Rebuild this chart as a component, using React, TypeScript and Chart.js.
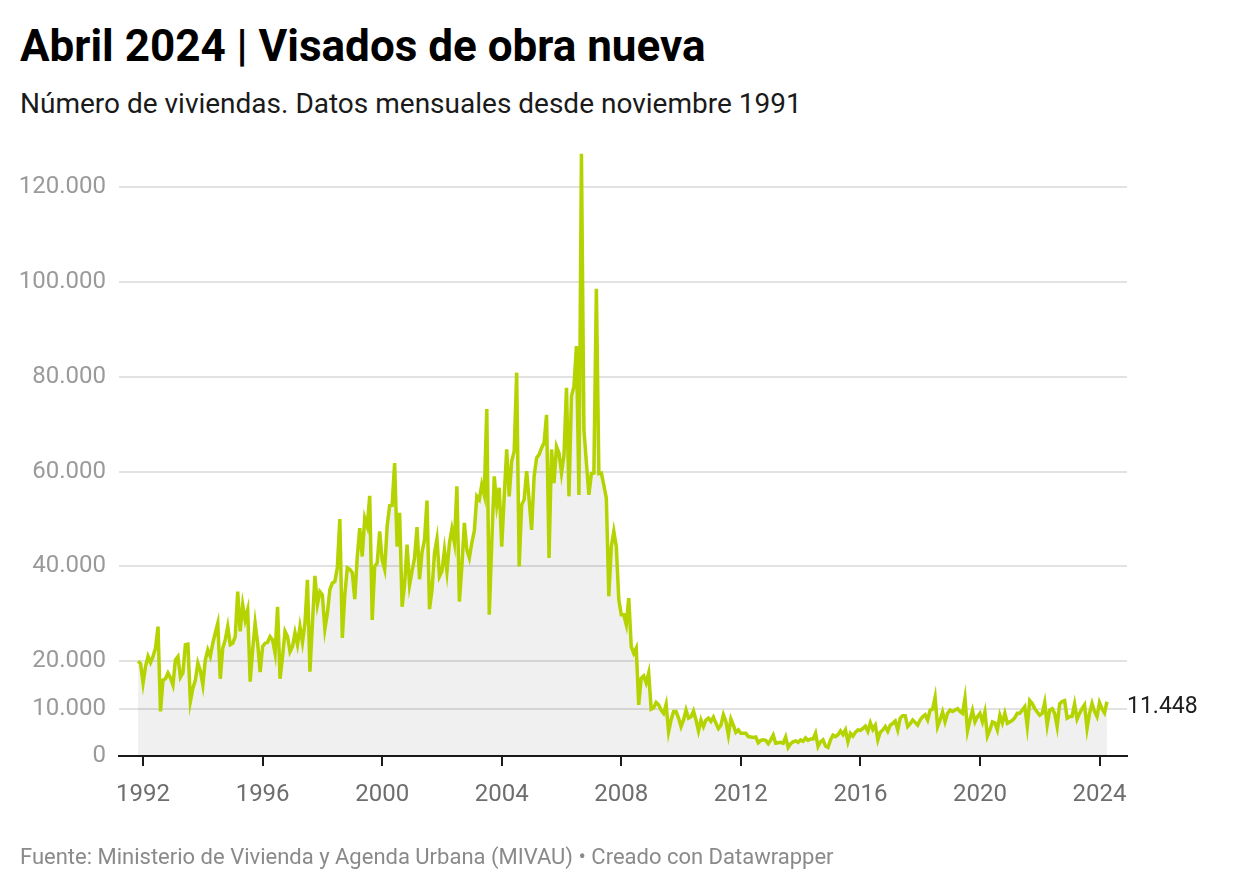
import React, { useEffect, useRef } from "react";
import { Chart, registerables } from "chart.js";

Chart.register(...registerables);

// Monthly housing permits (viviendas), from November 1991 to April 2024
const START_YEAR = 1991;
const START_MONTH = 11; // November

const v1991 = [20000, 19500];
const v1992 = [15400, 18900, 21000, 19700, 21000, 22800, 27300, 9400, 16000, 16300, 17500, 16500];
const v1993 = [15000, 20300, 21000, 16600, 17500, 23500, 23600, 11500, 14300, 16000, 19600, 18000];
const v1994 = [15000, 20300, 22400, 21000, 23800, 26000, 28000, 16300, 22800, 24500, 27300, 23500];
const v1995 = [23800, 25200, 34700, 26300, 31900, 28700, 30800, 15700, 22400, 28000, 23800, 17700];
const v1996 = [23100, 23800, 24000, 25200, 24500, 21700, 31500, 16300, 21000, 26300, 25200, 22000];
const v1997 = [23100, 26000, 23500, 27300, 24000, 28000, 37200, 17800, 28000, 38000, 32000, 34700];
const v1998 = [34000, 26800, 30100, 35100, 36500, 36800, 39700, 50000, 24900, 34000, 39700, 39400];
const v1999 = [38700, 33100, 42000, 48100, 42100, 50200, 48500, 54900, 28700, 40000, 40700, 47400];
const v2000 = [41400, 39400, 48500, 52800, 52900, 61800, 44200, 51300, 31500, 36100, 44600, 36100];
const v2001 = [39000, 41800, 48300, 37300, 43000, 45600, 53900, 31000, 35000, 42800, 45800, 37900];
const v2002 = [39000, 43500, 38900, 44900, 47900, 45000, 56900, 32600, 40000, 49200, 43500, 41800];
const v2003 = [45000, 47500, 54800, 54100, 57300, 55100, 73200, 29800, 45000, 59000, 53000, 56600];
const v2004 = [44200, 54800, 64700, 54800, 62200, 64300, 80900, 40000, 53000, 54100, 60100, 54100];
const v2005 = [47700, 59000, 62900, 63600, 65000, 66100, 72000, 41800, 64700, 57600, 65300, 63900];
const v2006 = [59700, 63500, 77700, 54800, 75900, 78000, 86500, 55100, 127100, 68900, 61800, 55100];
const v2007 = [59600, 59700, 98600, 59600, 59700, 57100, 54400, 33700, 44200, 47400, 44200, 33000];
const v2008 = [29800, 29800, 27700, 33300, 23100, 21700, 22800, 10800, 16400, 16900, 15400, 17500];
const v2009 = [9900, 10200, 11300, 10800, 9700, 9000, 10900, 5100, 7600, 9400, 9400, 8000];
const v2010 = [6200, 7600, 9700, 8000, 8300, 9500, 7600, 5300, 7600, 6200, 7600, 8000];
const v2011 = [7300, 8200, 6900, 5800, 6500, 8700, 7300, 4400, 7800, 6500, 5000, 5500];
const v2012 = [4800, 4800, 4800, 4100, 4000, 3900, 4000, 2800, 3300, 3400, 3300, 2600];
const v2013 = [3400, 4400, 2700, 2800, 2900, 2700, 4000, 1800, 2600, 3000, 3200, 2900];
const v2014 = [3400, 3100, 3800, 3300, 3600, 3600, 4800, 2000, 3000, 3400, 2100, 1800];
const v2015 = [3400, 4400, 4100, 4500, 5300, 4500, 5500, 3000, 4800, 4200, 5000, 5500];
const v2016 = [5400, 5800, 6300, 5200, 7000, 5600, 6500, 3400, 5000, 5500, 6200, 5200];
const v2017 = [6500, 6900, 7400, 5500, 8000, 8500, 8500, 6200, 6800, 7600, 7100, 6500];
const v2018 = [7600, 8300, 8700, 7600, 9700, 9900, 12400, 6200, 7600, 9300, 7200, 9000];
const v2019 = [9700, 9400, 9700, 10000, 9400, 9000, 12200, 5300, 7600, 9600, 7200, 8300];
const v2020 = [9000, 7200, 9300, 4200, 5500, 7200, 7000, 5500, 8600, 7000, 9000, 6900];
const v2021 = [7200, 7500, 8100, 9000, 9000, 9700, 10400, 6200, 11700, 11100, 10000, 9300];
const v2022 = [8600, 9000, 11300, 6500, 9700, 10000, 9000, 6200, 11000, 11500, 11700, 8000];
const v2023 = [8300, 8400, 11000, 7800, 9000, 10000, 10800, 5800, 9000, 11100, 9400, 8300];
const v2024 = [11300, 10000, 9100, 11448];

const allValues = [
  ...v1991, ...v1992, ...v1993, ...v1994, ...v1995, ...v1996, ...v1997, ...v1998,
  ...v1999, ...v2000, ...v2001, ...v2002, ...v2003, ...v2004, ...v2005, ...v2006,
  ...v2007, ...v2008, ...v2009, ...v2010, ...v2011, ...v2012, ...v2013, ...v2014,
  ...v2015, ...v2016, ...v2017, ...v2018, ...v2019, ...v2020, ...v2021, ...v2022,
  ...v2023, ...v2024,
];

const yTickValues = [0, 10000, 20000, 40000, 60000, 80000, 100000, 120000];
const xTickYears = [1992, 1996, 2000, 2004, 2008, 2012, 2016, 2020, 2024];

const TITLE = "Abril 2024 | Visados de obra nueva";
const SUBTITLE = "Número de viviendas. Datos mensuales desde noviembre 1991";
const FOOTER = "Fuente: Ministerio de Vivienda y Agenda Urbana (MIVAU) • Creado con Datawrapper";

const fmt = (v: number) => String(Math.round(v)).replace(/\B(?=(\d{3})+(?!\d))/g, ".");

const FONT = "Roboto, 'Noto Sans', sans-serif";

export default function App() {
  const canvasRef = useRef<HTMLCanvasElement | null>(null);

  useEffect(() => {
    const canvas = canvasRef.current;
    if (!canvas) return;
    const points = allValues.map((v, i) => ({
      x: START_YEAR + (START_MONTH - 1 + i) / 12,
      y: v,
    }));
    const last = allValues[allValues.length - 1];

    const endLabel = {
      id: "endLabel",
      afterDatasetsDraw(chart: any) {
        const { ctx, chartArea, scales } = chart;
        const y = scales.y.getPixelForValue(last);
        ctx.save();
        ctx.font = `23px ${FONT}`;
        ctx.fillStyle = "#1d1d1d";
        ctx.textAlign = "left";
        ctx.textBaseline = "middle";
        ctx.fillText(fmt(last), chartArea.right + 0, y + 5);
        ctx.restore();
      },
    };

    const chart = new Chart(canvas, {
      type: "line",
      data: {
        datasets: [
          {
            data: points,
            borderColor: "#b4d300",
            borderWidth: 3.5,
            backgroundColor: "rgba(0,0,0,0.06)",
            fill: "origin",
            pointRadius: 0,
            tension: 0,
          },
        ],
      },
      options: {
        animation: false,
        responsive: false,
        maintainAspectRatio: false,
        parsing: true,
        layout: { padding: { top: 140, right: 113, bottom: 0, left: 0 } },
        plugins: {
          legend: { display: false },
          tooltip: { enabled: false },
          title: { display: false },
        },
        scales: {
          x: {
            type: "linear",
            min: 1991.195,
            max: 2024.92,
            z: 1,
            afterBuildTicks: (scale: any) => {
              scale.ticks = xTickYears.map((v) => ({ value: v }));
            },
            afterFit: (scale: any) => {
              scale.height = 136;
            },
            grid: {
              drawOnChartArea: false,
              drawTicks: true,
              tickLength: 10,
              tickColor: "#1a1a1a",
              lineWidth: 2,
            },
            border: { display: true, color: "#1a1a1a", width: 2 },
            ticks: {
              autoSkip: false,
              maxRotation: 0,
              padding: 15,
              color: "#6e6e6e",
              font: { family: FONT, size: 24 },
              callback: (v: any) => String(v),
            },
          },
          y: {
            type: "linear",
            min: 0,
            max: 130000,
            afterBuildTicks: (scale: any) => {
              scale.ticks = yTickValues.map((v) => ({ value: v }));
            },
            afterFit: (scale: any) => {
              scale.width = 119;
            },
            grid: {
              color: "#e2e2e2",
              lineWidth: 2,
              drawTicks: false,
            },
            border: { display: false },
            ticks: {
              padding: 13,
              color: "#9a9a9a",
              font: { family: FONT, size: 24 },
              callback: (v: any) => fmt(Number(v)),
            },
          },
        },
      },
      plugins: [endLabel],
    });
    return () => chart.destroy();
  }, []);

  return (
    <div
      style={{
        position: "fixed",
        left: 0,
        top: 0,
        width: 1240,
        height: 892,
        background: "#ffffff",
        fontFamily: FONT,
      }}
    >
      <div
        style={{
          position: "absolute",
          left: 20,
          top: 24,
          fontSize: 44,
          lineHeight: "44px",
          fontWeight: 700,
          color: "#000",
          whiteSpace: "nowrap",
        }}
      >
        {TITLE}
      </div>
      <div
        style={{
          position: "absolute",
          left: 20,
          top: 90,
          fontSize: 28,
          lineHeight: "28px",
          color: "#1a1a1a",
          whiteSpace: "nowrap",
        }}
      >
        {SUBTITLE}
      </div>
      <canvas
        ref={canvasRef}
        width={1240}
        height={892}
        style={{ position: "absolute", left: 0, top: 0, width: 1240, height: 892 }}
      />
      <div
        style={{
          position: "absolute",
          left: 20,
          top: 846,
          fontSize: 22,
          lineHeight: "22px",
          color: "#8a8a8a",
          whiteSpace: "nowrap",
        }}
      >
        {FOOTER}
      </div>
    </div>
  );
}
